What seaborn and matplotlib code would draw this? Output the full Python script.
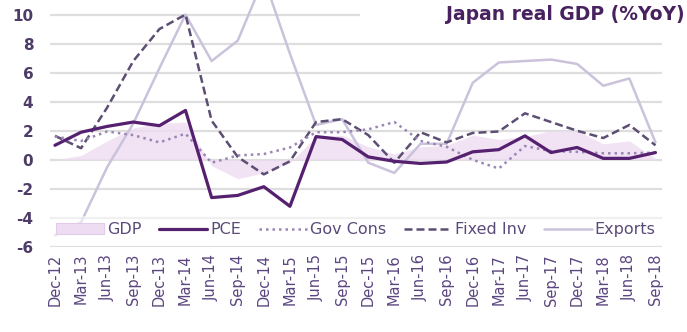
import matplotlib
matplotlib.use("Agg")
import matplotlib.pyplot as plt
import numpy as np
import pandas as pd
import seaborn as sns
from matplotlib.patches import Rectangle, Patch
from matplotlib.lines import Line2D

# Quarterly year-on-year growth, Japan real GDP and components (%)
quarters = ["Dec-12", "Mar-13", "Jun-13", "Sep-13", "Dec-13", "Mar-14",
            "Jun-14", "Sep-14", "Dec-14", "Mar-15", "Jun-15", "Sep-15",
            "Dec-15", "Mar-16", "Jun-16", "Sep-16", "Dec-16", "Mar-17",
            "Jun-17", "Sep-17", "Dec-17", "Mar-18", "Jun-18", "Sep-18"]
gdp = [0.0, 0.3, 1.3, 2.2, 2.5, 2.6, -0.4, -1.3, -0.9, -0.2, 1.6, 1.7,
       0.9, 0.4, 0.9, 1.0, 1.7, 1.4, 1.6, 2.0, 2.0, 1.1, 1.3, 0.1]
pce = [1.0, 1.9, 2.3, 2.6, 2.35, 3.4, -2.6, -2.45, -1.85, -3.2, 1.6, 1.4,
       0.2, -0.1, -0.25, -0.15, 0.55, 0.7, 1.65, 0.5, 0.85, 0.1, 0.1, 0.5]
gov_cons = [1.6, 1.3, 1.95, 1.7, 1.2, 1.8, -0.2, 0.3, 0.4, 0.85, 1.9, 1.9,
            2.1, 2.6, 1.3, 0.9, 0.0, -0.6, 0.95, 0.6, 0.55, 0.45, 0.45, 0.5]
fixed_inv = [1.65, 0.8, 3.6, 6.8, 9.0, 10.0, 2.7, 0.2, -1.0, -0.1, 2.6, 2.8,
             1.7, -0.2, 1.9, 1.2, 1.85, 1.95, 3.2, 2.6, 2.0, 1.5, 2.4, 1.0]
exports = [-5.2, -4.3, -0.5, 2.5, 6.3, 10.0, 6.8, 8.2, 12.5, 7.3, 2.4, 2.8,
           -0.2, -0.9, 1.1, 1.1, 5.3, 6.7, 6.8, 6.9, 6.6, 5.1, 5.6, 1.2]

df = pd.DataFrame({
    "idx": np.arange(len(quarters)),
    "quarter": quarters,
    "GDP": gdp,
    "PCE": pce,
    "Gov Cons": gov_cons,
    "Fixed Inv": fixed_inv,
    "Exports": exports,
})

sns.set_theme(style="white")
plt.rcParams["font.family"] = ["DejaVu Sans"]

W, H = 687, 332
fig = plt.figure(figsize=(W / 100, H / 100), dpi=100)
ax = fig.add_axes([50 / W, 1 - 247 / H, 612 / W, 247 / H])

c_gdp = "#eedcf2"
c_pce = "#55206f"
c_gov = "#9a86b6"
c_fix = "#5d4e74"
c_exp = "#cbc2dc"
c_text = "#4d3b68"

# GDP as a shaded area from zero
ax.fill_between(df["idx"], 0, df["GDP"], color=c_gdp, alpha=0.8, lw=0, zorder=1)

sns.lineplot(data=df, x="idx", y="Exports", ax=ax, color=c_exp, lw=1.8, zorder=2)
sns.lineplot(data=df, x="idx", y="Fixed Inv", ax=ax, color=c_fix, lw=1.8, zorder=3)
ax.lines[-1].set_dashes([3.2, 1.6])
sns.lineplot(data=df, x="idx", y="Gov Cons", ax=ax, color=c_gov, lw=1.8, zorder=4)
ax.lines[-1].set_dashes([1.0, 1.6])
sns.lineplot(data=df, x="idx", y="PCE", ax=ax, color=c_pce, lw=2.3, zorder=5)

ax.set_xlim(-0.19, 23.25)
ax.set_ylim(-6, 11.0)
ax.set_yticks(np.arange(-6, 11, 2))
ax.set_yticklabels([f"{v:d}" for v in range(-6, 11, 2)],
                   fontsize=11, fontweight="bold", color=c_text)
ax.set_xticks(df["idx"])
ax.set_xticklabels(quarters, rotation=90, fontsize=10.5, color="#5b4680")
ax.tick_params(axis="both", length=0)
ax.tick_params(axis="x", pad=5)
ax.tick_params(axis="y", pad=12)
ax.set_xlabel("")
ax.set_ylabel("")
ax.yaxis.grid(True, color="#dedede", lw=1.6, zorder=0)
ax.xaxis.grid(False)
ax.set_axisbelow(True)
for s in ax.spines.values():
    s.set_visible(False)

handles = [
    Patch(facecolor=c_gdp, edgecolor="#e2cbe9", lw=0.8),
    Line2D([], [], color=c_pce, lw=2.3),
    Line2D([], [], color=c_gov, lw=1.8, dashes=[1.0, 1.6]),
    Line2D([], [], color=c_fix, lw=1.8, dashes=[3.2, 1.6]),
    Line2D([], [], color=c_exp, lw=1.8),
]
labels = ["GDP", "PCE", "Gov Cons", "Fixed Inv", "Exports"]
leg = ax.legend(handles, labels, loc="center", bbox_to_anchor=(0.0, 0.01, 1.0, 0.12),
                mode="expand", ncol=5, fontsize=11.5, handlelength=3.0,
                handletextpad=0.2, borderaxespad=0, frameon=True,
                facecolor="white", framealpha=0.55, edgecolor="none")
for t in leg.get_texts():
    t.set_color("#5a4a78")

# title panel in the top-right corner
ax.add_patch(Rectangle((360 / W, 1 - 27 / H), 327 / W, 27 / H, transform=fig.transFigure,
                       facecolor="white", edgecolor="none", zorder=10, clip_on=False))
fig.text(446 / W, 1 - 15 / H, "Japan real GDP (%YoY)", ha="left", va="center",
         fontsize=13.5, fontweight="bold", color="#48215f", zorder=11)

fig.savefig("out.png", dpi=100)
